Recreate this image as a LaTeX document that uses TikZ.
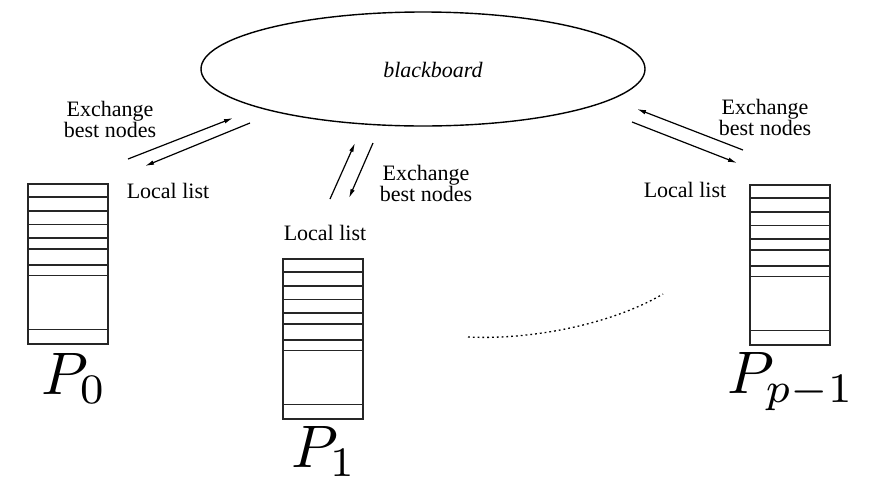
\documentclass[tikz,border=0pt]{standalone}
\usepackage[no-math]{fontspec}
\setmainfont{Liberation Serif}
\newfontfamily\tmsfont{Liberation Serif}
\usetikzlibrary{arrows.meta}
\tikzset{
  boxline/.style={draw=black!85, line width=1.5pt},
  llist/.pic={
    \draw[boxline] (0,0) rectangle (80,160);
    \foreach \r in {13,27,40.5,54,65,81,91.3,145.3}
      \draw[boxline] (0,\r) -- (80,\r);
  },
  lbl/.style={inner sep=0pt, font=\tmsfont\fontsize{22}{18}\selectfont},
  plbl/.style={inner sep=0pt, anchor=base},
  xarrow/.style={-{Latex[length=9pt,width=4.5pt]}, line width=1.2pt},
}
\begin{document}
\begin{tikzpicture}[x=1pt,y=-1pt]
\useasboundingbox (0,0) rectangle (877,496);
% blackboard
\draw[line width=1.4pt] (423,69) ellipse [x radius=222pt, y radius=57pt];
\node[lbl, font=\tmsfont\itshape\fontsize{22}{22}\selectfont] (bb) at (433,70) {blackboard};
% local lists
\pic at (28,184) {llist};
\pic at (283,259) {llist};
\pic at (750,185) {llist};
% processor labels
\node[plbl] (p0) at (74,394) {\scalebox{6}{$P_0$}};
\node[plbl] (p1) at (324,467) {\scalebox{6}{$P_1$}};
\node[plbl] (pp) at (791,393) {\scalebox{6}{$P_{p-1}$}};
% texts
\node[lbl, align=center] (ex0) at (110,119) {Exchange\\best nodes};
\node[lbl, align=center] (ex1) at (426,183) {Exchange\\best nodes};
\node[lbl, align=center] (ex2) at (765,117) {Exchange\\best nodes};
\node[lbl, anchor=base] (ll0) at (168,198) {Local list};
\node[lbl, anchor=base] (ll1) at (325,240) {Local list};
\node[lbl, anchor=base] (ll2) at (685,197) {Local list};
% arrow ends
\coordinate (a1s) at (128,159); \coordinate (a1e) at (233,118);
\coordinate (a2s) at (250,123); \coordinate (a2e) at (145,166);
\coordinate (b1s) at (330,199); \coordinate (b1e) at (355,143);
\coordinate (b2s) at (373,143); \coordinate (b2e) at (349,198);
\coordinate (c1s) at (743,150); \coordinate (c1e) at (637,109);
\coordinate (c2s) at (632,122); \coordinate (c2e) at (737,163);
\draw[xarrow] (a1s) -- (a1e);
\draw[xarrow] (a2s) -- (a2e);
\draw[xarrow] (b1s) -- (b1e);
\draw[xarrow] (b2s) -- (b2e);
\draw[xarrow] (c1s) -- (c1e);
\draw[xarrow] (c2s) -- (c2e);
% dotted curve
\coordinate (d0) at (468,337); \coordinate (d1) at (663,294);
\draw[line width=1.3pt, dash pattern=on 1.8pt off 3pt] (d0) .. controls (530,340) and (610,325) .. (d1);
\end{tikzpicture}
\end{document}
